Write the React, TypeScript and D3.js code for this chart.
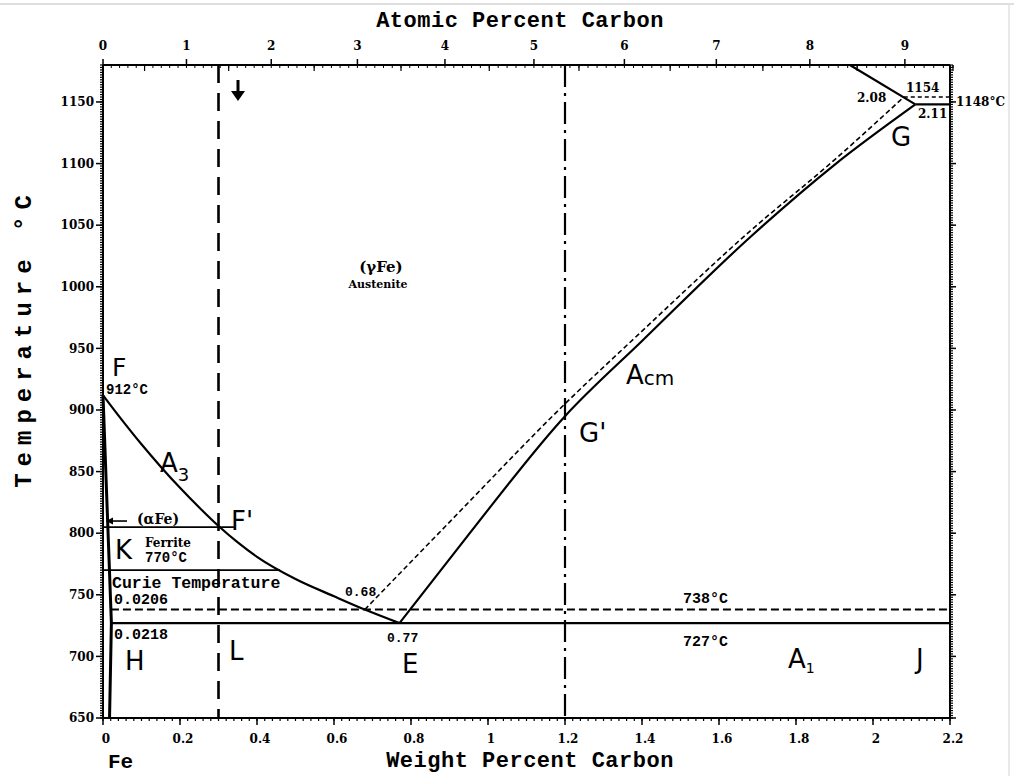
import React from 'react';
import * as d3 from 'd3';

const W = 1014;
const H = 776;

// Axis ticks
const tempTicks = [650, 700, 750, 800, 850, 900, 950, 1000, 1050, 1100, 1150];
const wtTicks = [0, 0.2, 0.4, 0.6, 0.8, 1, 1.2, 1.4, 1.6, 1.8, 2, 2.2];
const wtTickLabels = ['0', '0.2', '0.4', '0.6', '0.8', '1', '1.2', '1.4', '1.6', '1.8', '2', '2.2'];
const atTicks = [0, 1, 2, 3, 4, 5, 6, 7, 8, 9];

// A3 boundary (alpha+gamma / gamma), wt% C vs °C
const a3Wt = [0, 0.05, 0.1, 0.15, 0.2, 0.25, 0.3, 0.35, 0.4, 0.5, 0.6, 0.68, 0.77];
const a3Temp = [912, 891.6, 872.2, 854, 836.8, 820.8, 805.8, 792.5, 780.8, 762.8, 748.8, 738, 727];

// Acm boundary (gamma / gamma+Fe3C)
const acmWt = [0.77, 0.94, 1.2, 1.4, 1.68, 1.9, 2.11];
const acmTemp = [727, 795, 895, 956, 1040, 1099, 1148];

// Stable (graphite) Acm boundary
const acmGrWt = [0.68, 0.9, 1.2, 1.4, 1.68, 1.9, 2.08];
const acmGrTemp = [738, 809, 905, 964, 1045, 1103, 1154];

// Ferrite solvus (alpha / alpha+gamma and alpha / alpha+Fe3C)
const ferriteWt = [0, 0.0218, 0.017];
const ferriteTemp = [912, 727, 650];

// Solidus above the eutectic
const solidusWt = [1.94, 2.11];
const solidusTemp = [1180, 1148];

// Invariant temperatures
const eutecticTemp = 1148;
const eutecticWt = 2.11;
const grEutecticTemp = 1154;
const grEutecticWt = 2.08;
const eutectoidTemp = 727;
const eutectoidAlphaWt = 0.0218;
const grEutectoidTemp = 738;
const grEutectoidAlphaWt = 0.0206;
const curieTemp = 770;
const curieEndWt = 0.46;
const alphaMarkTemp = 805;
const alphaMarkEndWt = 0.34;

// Alloy compositions
const alloyA = 0.3;
const alloyB = 1.2;

const xMin = 0;
const xMax = 2.2;
const tMin = 650;
const tMax = 1180;

// atomic % C -> weight % C
const atToWt = (a: number) => (100 * 12.011 * a) / (12.011 * a + 55.845 * (100 - a));

const x = d3.scaleLinear().domain([xMin, xMax]).range([103, 950]);
const y = d3.scaleLinear().domain([tMin, tMax]).range([718, 65]);

const pts = (ws: number[], ts: number[]) => ws.map((w, i) => [w, ts[i]] as [number, number]);

const line = d3
  .line<[number, number]>()
  .x((d) => x(d[0]))
  .y((d) => y(d[1]));

const curve = d3
  .line<[number, number]>()
  .x((d) => x(d[0]))
  .y((d) => y(d[1]))
  .curve(d3.curveMonotoneX);

const tickFont = { fontFamily: '"DejaVu Serif", serif', fontWeight: 700, fontSize: 12 };
const mono = { fontFamily: '"Liberation Mono", monospace', fontWeight: 700 };
const hand = { fontFamily: '"DejaVu Sans", sans-serif', fontWeight: 400 };

export default function App() {
  const minorT = d3.range(tMin, tMax + 0.1, 2);
  const minorW = d3.range(xMin, xMax + 0.001, 0.02);
  const minorAt = d3.range(0, 9.51, 0.1);
  const halfAt = d3.range(0.5, 9.6, 1);

  const x0 = x(xMin);
  const x1 = x(xMax);
  const yb = y(tMin);
  const yt = y(tMax);

  return (
    <svg
      width={W}
      height={H}
      viewBox={`0 0 ${W} ${H}`}
      style={{ position: 'absolute', left: 0, top: 0, background: '#fff' }}
    >
      <rect x={0} y={0} width={W} height={H} fill="#fff" />
      {/* sheet edge */}
      <line x1={0} x2={W} y1={4} y2={4} stroke="#d4d4d4" strokeWidth={1.5} />
      <line x1={1009} x2={1009} y1={4} y2={H} stroke="#e2e2e2" strokeWidth={1.5} />

      <g stroke="#000" fill="none">
        {/* frame */}
        <line x1={x0} x2={x1} y1={yt} y2={yt} strokeWidth={2} />
        <line x1={x0} x2={x1} y1={yb} y2={yb} strokeWidth={2} />
        <line x1={x0} x2={x0} y1={yt} y2={yb} strokeWidth={2} />
        <line x1={x1} x2={x1} y1={yt} y2={yb} strokeWidth={2} />

        {/* temperature axis ticks, left and right */}
        {minorT.map((t) => (
          <g key={'mt' + t}>
            <line x1={x0 - 3} x2={x0 + 1} y1={y(t)} y2={y(t)} strokeWidth={1.2} />
            <line x1={x1 - 1} x2={x1 + 3} y1={y(t)} y2={y(t)} strokeWidth={1.2} />
          </g>
        ))}
        {tempTicks.map((t) => (
          <g key={'t' + t}>
            <line x1={x0 - 7} x2={x0} y1={y(t)} y2={y(t)} strokeWidth={1.5} />
            <line x1={x1} x2={x1 + 6} y1={y(t)} y2={y(t)} strokeWidth={1.5} />
          </g>
        ))}

        {/* weight percent ticks */}
        {minorW.map((w) => (
          <line key={'mw' + w} x1={x(w)} x2={x(w)} y1={yb - 1} y2={yb + 3} strokeWidth={1.2} />
        ))}
        {wtTicks.map((w) => (
          <line key={'w' + w} x1={x(w)} x2={x(w)} y1={yb} y2={yb + 7} strokeWidth={1.5} />
        ))}

        {/* atomic percent ticks */}
        {minorAt.map((a) => (
          <line key={'ma' + a} x1={x(atToWt(a))} x2={x(atToWt(a))} y1={yt} y2={yt + 3} strokeWidth={1} />
        ))}
        {halfAt.map((a) => (
          <line key={'ha' + a} x1={x(atToWt(a))} x2={x(atToWt(a))} y1={yt} y2={yt + 6} strokeWidth={1.2} />
        ))}
        {atTicks.map((a) => (
          <line key={'a' + a} x1={x(atToWt(a))} x2={x(atToWt(a))} y1={yt - 6} y2={yt} strokeWidth={1.5} />
        ))}

        {/* phase boundaries */}
        <path d={curve(pts(a3Wt, a3Temp)) ?? ''} strokeWidth={2.2} />
        <path d={curve(pts(acmWt, acmTemp)) ?? ''} strokeWidth={2.2} />
        <path d={curve(pts(acmGrWt, acmGrTemp)) ?? ''} strokeWidth={1.6} strokeDasharray="5 3" />
        <path d={line(pts(ferriteWt, ferriteTemp)) ?? ''} strokeWidth={3} />
        <path d={line(pts(solidusWt, solidusTemp)) ?? ''} strokeWidth={2.2} />

        {/* invariant lines */}
        <line x1={x(eutecticWt)} x2={x1} y1={y(eutecticTemp)} y2={y(eutecticTemp)} strokeWidth={2.2} />
        <line
          x1={x(grEutecticWt)}
          x2={x1}
          y1={y(grEutecticTemp)}
          y2={y(grEutecticTemp)}
          strokeWidth={1.5}
          strokeDasharray="4 3"
        />
        <line
          x1={x(eutectoidAlphaWt)}
          x2={x1}
          y1={y(eutectoidTemp)}
          y2={y(eutectoidTemp)}
          strokeWidth={2.4}
        />
        <line
          x1={x(grEutectoidAlphaWt)}
          x2={x1}
          y1={y(grEutectoidTemp)}
          y2={y(grEutectoidTemp)}
          strokeWidth={2}
          strokeDasharray="8 4"
        />
        <line x1={x0} x2={x(curieEndWt)} y1={y(curieTemp)} y2={y(curieTemp)} strokeWidth={1.8} />
        <line x1={x0} x2={x(alphaMarkEndWt)} y1={y(alphaMarkTemp)} y2={y(alphaMarkTemp)} strokeWidth={1.8} />

        {/* alloy verticals */}
        <line x1={x(alloyA)} x2={x(alloyA)} y1={yt} y2={yb} strokeWidth={2.6} strokeDasharray="18 10" />
        <line x1={x(alloyB)} x2={x(alloyB)} y1={yt} y2={yb} strokeWidth={2.2} strokeDasharray="22 6 3 6" />

        {/* alpha arrow */}
        <line x1={x0 + 6} x2={x0 + 24} y1={y(alphaMarkTemp) - 6} y2={y(alphaMarkTemp) - 6} strokeWidth={1.6} />
      </g>
      <path d={`M${x0 + 3},${y(alphaMarkTemp) - 6} l7,-3.5 l0,7 z`} fill="#000" />
      {/* downward arrow at the top of the hypoeutectoid line */}
      <g>
        <line x1={238} x2={238} y1={80} y2={93} stroke="#000" strokeWidth={3} />
        <path d="M231,91 L245,91 L238,101 z" fill="#000" />
      </g>

      {/* axis tick labels */}
      <g {...tickFont} fill="#000">
        {tempTicks.map((t) => (
          <text key={'tl' + t} x={x0 - 9} y={y(t)} dy="0.35em" textAnchor="end">
            {t}
          </text>
        ))}
        {wtTicks.map((w, i) => (
          <text key={'wl' + w} x={x(w) + 3} y={yb + 25} textAnchor="middle">
            {wtTickLabels[i]}
          </text>
        ))}
        {atTicks.map((a) => (
          <text key={'al' + a} x={x(atToWt(a))} y={yt - 15} textAnchor="middle">
            {a}
          </text>
        ))}
      </g>

      {/* axis titles */}
      <text x={520} y={27} textAnchor="middle" {...mono} fontSize={22} fill="#000" letterSpacing={0.5}>
        Atomic Percent Carbon
      </text>
      <text x={530} y={767} textAnchor="middle" {...mono} fontSize={22} fill="#000" letterSpacing={0.5}>
        Weight Percent Carbon
      </text>
      <text
        transform={`translate(31,338) rotate(-90)`}
        textAnchor="middle"
        {...mono}
        fontSize={24}
        fill="#000"
        letterSpacing={7}
      >
        Temperature °C
      </text>
      <text x={108} y={768} {...mono} fontSize={21} fill="#000">
        Fe
      </text>

      {/* region labels */}
      <text x={381} y={272} textAnchor="middle" fontFamily='"DejaVu Serif", serif' fontWeight={700} fontSize={15}>
        (γFe)
      </text>
      <text x={378} y={288} textAnchor="middle" fontFamily='"DejaVu Serif", serif' fontWeight={700} fontSize={11}>
        Austenite
      </text>
      <text x={137} y={524} fontFamily='"DejaVu Serif", serif' fontWeight={700} fontSize={14}>
        (αFe)
      </text>
      <text x={145} y={547} fontFamily='"DejaVu Serif", serif' fontWeight={700} fontSize={12}>
        Ferrite
      </text>

      {/* small value labels */}
      <g {...mono} fill="#000">
        <text x={106} y={394} fontSize={14}>912°C</text>
        <text x={145} y={562} fontSize={14}>770°C</text>
        <text x={112} y={588} fontSize={16.5}>Curie Temperature</text>
        <text x={114} y={604} fontSize={15}>0.0206</text>
        <text x={114} y={639} fontSize={15}>0.0218</text>
        <text x={345} y={596} fontSize={13}>0.68</text>
        <text x={387} y={642} fontSize={13}>0.77</text>
        <text x={683} y={603} fontSize={15}>738°C</text>
        <text x={683} y={646} fontSize={15}>727°C</text>
      </g>
      <g {...tickFont} fill="#000">
        <text x={857} y={102}>2.08</text>
        <text x={906} y={92}>1154</text>
        <text x={918} y={118}>2.11</text>
        <text x={956} y={106}>1148°C</text>
      </g>

      {/* point and line letters */}
      <g {...hand} fill="#000" fontSize={26}>
        <text x={112} y={376} fontSize={25}>F</text>
        <text x={231} y={530}>F'</text>
        <text x={115} y={559}>K</text>
        <text x={125} y={670}>H</text>
        <text x={229} y={660}>L</text>
        <text x={402} y={673}>E</text>
        <text x={579} y={442}>G'</text>
        <text x={891} y={146}>G</text>
        <text x={916} y={668}>J</text>
        <text x={160} y={472}>
          A<tspan fontSize={18} dy={9}>3</tspan>
        </text>
        <text x={788} y={668}>
          A<tspan fontSize={14} dy={5}>1</tspan>
        </text>
        <text x={626} y={384}>
          A<tspan fontSize={20} dy={1}>cm</tspan>
        </text>
      </g>
    </svg>
  );
}
